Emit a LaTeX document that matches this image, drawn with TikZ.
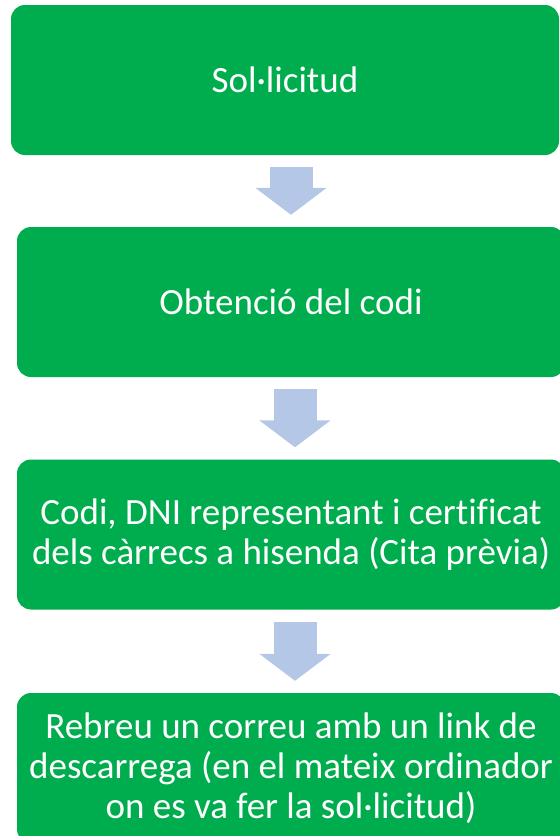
\documentclass[tikz,border=0pt]{standalone}
\usepackage{fontspec}
\setmainfont[Ligatures=NoCommon]{Carlito}
\usetikzlibrary{arrows.meta}

\definecolor{stepgreen}{RGB}{0,173,78}
\definecolor{flowblue}{RGB}{180,199,231}

\begin{document}
\begin{tikzpicture}[
	x=1pt, y=-1pt,
	block/.style={
		fill=stepgreen,
		rounded corners=14pt,
		minimum width=548pt,
		minimum height=150pt,
		text=white,
		align=center,
		inner sep=3pt,
		font=\fontsize{37}{40}\selectfont,
	},
	flow/.style={
		draw=flowblue,
		line width=43pt,
		shorten <=12pt,
		shorten >=12pt,
		-{Triangle[length=27pt,width=70pt]},
	}
]
\useasboundingbox (0,0) rectangle (560,836);

\node[block] (req) at (285,80) {Sol·licitud};
\node[block] (code) at (291,302) {Obtenció del codi};
\node[block] (visit) at (291,534.5) {Codi, DNI representant i certificat \\ dels càrrecs a hisenda (Cita prèvia)};
\node[block] (mail) at (291,768) {Rebreu un correu amb un link de \\ descarrega (en el mateix ordinador \\ on es va fer la sol·licitud)};

\draw[flow] ([xshift=6pt]req.south) -- (code.north);
\draw[flow] ([xshift=4pt]code.south) -- ([xshift=4pt]visit.north);
\draw[flow] ([xshift=4pt]visit.south) -- ([xshift=4pt]mail.north);

\end{tikzpicture}
\end{document}
